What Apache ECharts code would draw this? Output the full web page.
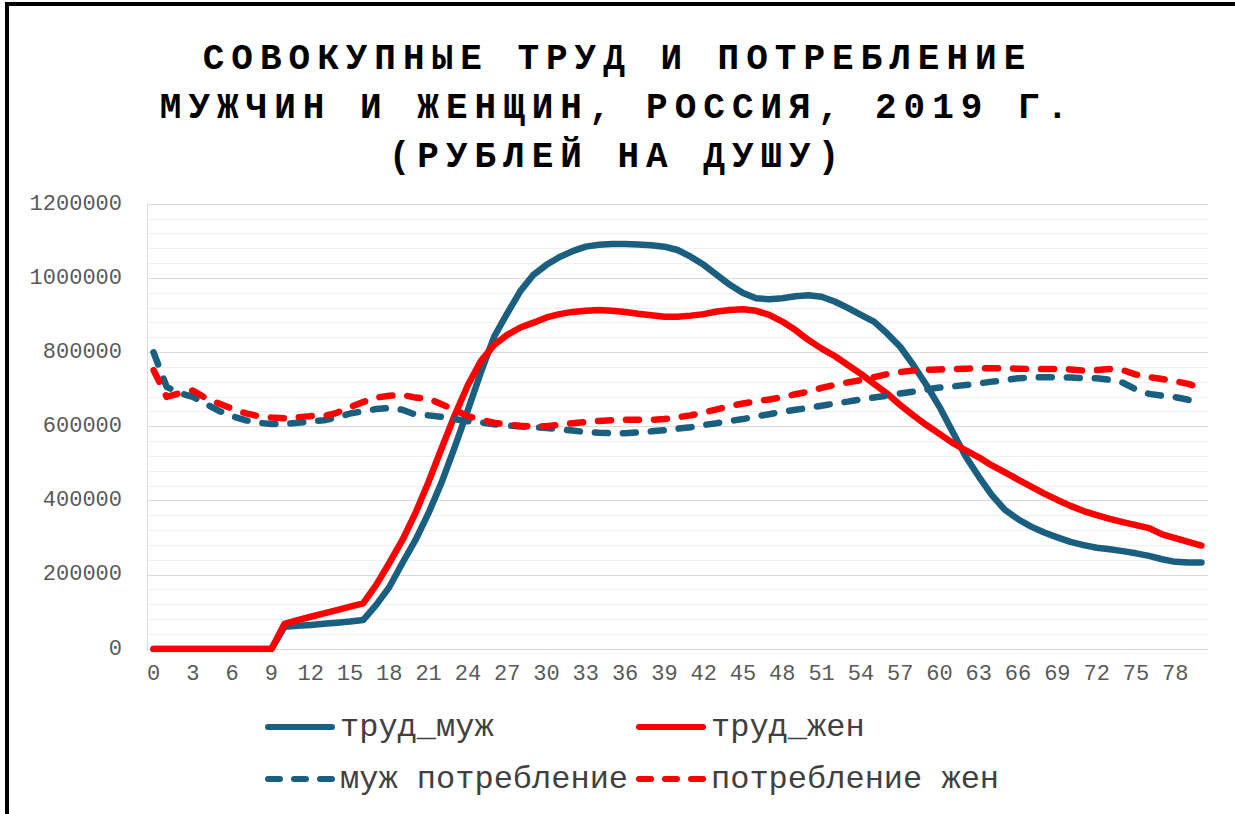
<!DOCTYPE html>
<html>
<head>
<meta charset="utf-8">
<script src="https://cdn.jsdelivr.net/npm/echarts@6/dist/echarts.min.js"></script>
<style>
html, body { margin: 0; padding: 0; background: #fff; }
#chart { width: 1235px; height: 814px; }
/* заголовок в Excel разрядкой */
#chart text[style*="bold"] { letter-spacing: 7px; }
</style>
</head>
<body>
<div id="chart"></div>
<script>
// возраст, лет
var ages = ['0','1','2','3','4','5','6','7','8','9','10','11','12','13','14','15','16','17','18','19',
    '20','21','22','23','24','25','26','27','28','29','30','31','32','33','34','35','36','37','38','39',
    '40','41','42','43','44','45','46','47','48','49','50','51','52','53','54','55','56','57','58','59',
    '60','61','62','63','64','65','66','67','68','69','70','71','72','73','74','75','76','77','78','79','80'];

// труд мужчин
var laborMale = [0, 0, 0, 0, 0, 0, 0, 0, 0, 0,
    60000, 63000, 65000, 68000, 71000, 74000, 78000, 119000, 167000, 232000,
    294000, 367000, 450000, 545000, 645000, 747000, 842000, 905000, 965000, 1009000,
    1036000, 1057000, 1073000, 1085000, 1090000, 1092000, 1092000, 1091000, 1089000, 1085000,
    1076000, 1058000, 1036000, 1009000, 982000, 960000, 946000, 943000, 946000, 951000,
    954000, 950000, 937000, 920000, 901000, 883000, 851000, 815000, 766000, 712000,
    653000, 586000, 519000, 465000, 415000, 375000, 350000, 330000, 314000, 301000,
    289000, 280000, 273000, 269000, 264000, 258000, 251000, 242000, 235000, 233000, 233000];

// труд женщин
var laborFemale = [0, 0, 0, 0, 0, 0, 0, 0, 0, 0,
    68000, 78000, 87000, 96000, 105000, 114000, 123000, 173000, 232000, 294000,
    367000, 451000, 542000, 631000, 712000, 777000, 820000, 847000, 867000, 880000,
    894000, 903000, 909000, 912000, 914000, 912000, 909000, 904000, 900000, 896000,
    896000, 899000, 903000, 910000, 914000, 916000, 912000, 901000, 883000, 860000,
    833000, 810000, 790000, 766000, 742000, 715000, 689000, 658000, 630000, 604000,
    580000, 556000, 536000, 517000, 495000, 476000, 457000, 438000, 419000, 402000,
    386000, 372000, 361000, 351000, 342000, 334000, 326000, 309000, 299000, 289000, 279000];

// потребление мужчин
var consMale = [800000, 707000, 690000, 680000, 661000, 642000, 628000, 617000, 610000, 607000,
    607000, 610000, 614000, 617000, 624000, 635000, 641000, 647000, 650000, 645000,
    632000, 630000, 626000, 620000, 614000, 611000, 606000, 603000, 600000, 598000,
    596000, 593000, 589000, 585000, 583000, 582000, 582000, 584000, 587000, 590000,
    594000, 598000, 604000, 609000, 615000, 620000, 627000, 633000, 640000, 645000,
    650000, 656000, 662000, 667000, 673000, 678000, 683000, 689000, 694000, 700000,
    705000, 708000, 712000, 716000, 721000, 725000, 730000, 732000, 733000, 733000,
    732000, 730000, 730000, 726000, 718000, 700000, 688000, 683000, 679000, 672000, 663000];

// потребление женщин
var consFemale = [752000, 680000, 690000, 697000, 676000, 662000, 648000, 636000, 628000, 624000,
    622000, 625000, 628000, 628000, 637000, 652000, 666000, 678000, 683000, 685000,
    678000, 675000, 660000, 644000, 628000, 618000, 610000, 605000, 602000, 600000,
    601000, 605000, 609000, 612000, 615000, 617000, 618000, 618000, 618000, 620000,
    625000, 630000, 638000, 646000, 655000, 662000, 668000, 673000, 679000, 687000,
    694000, 704000, 712000, 719000, 725000, 733000, 741000, 747000, 751000, 753000,
    754000, 755000, 756000, 757000, 757000, 757000, 756000, 755000, 755000, 755000,
    754000, 751000, 752000, 755000, 752000, 740000, 733000, 728000, 722000, 715000, 703000];

var BLUE = '#1a5f80';
var RED = '#ff0000';
var FONT = "'Liberation Mono', 'DejaVu Sans Mono', monospace";
var GREY_TXT = '#595959';

// значки легенды: сплошная линия и пунктир со скруглёнными концами
var ICON_SOLID = 'path://M3,0h64a3,3 0 0 1 0,6h-64a3,3 0 0 1 0,-6z';
var ICON_DASH = 'path://M3,0h12a3,3 0 0 1 0,6h-12a3,3 0 0 1 0,-6z' +
    'M29,0h12a3,3 0 0 1 0,6h-12a3,3 0 0 1 0,-6z' +
    'M55,0h12a3,3 0 0 1 0,6h-12a3,3 0 0 1 0,-6z';

var chart = echarts.init(document.getElementById('chart'), null, { renderer: 'svg' });

function legendItem(name, left, top, icon) {
    return {
        data: [name],
        left: left,
        top: top,
        icon: icon,
        itemWidth: 70,
        itemHeight: 6,
        padding: 0,
        textStyle: { fontFamily: FONT, fontSize: 32, color: '#404040' }
    };
}

function lineSeries(name, data, color, dashed) {
    return {
        name: name,
        type: 'line',
        data: data,
        symbol: 'none',
        smooth: false,
        itemStyle: { color: color },
        lineStyle: {
            color: color,
            width: 6.5,
            type: dashed ? [13, 15] : 'solid',
            cap: 'round',
            join: 'round'
        }
    };
}

var option = {
    backgroundColor: '#fff',
    animation: false,
    title: {
        text: 'СОВОКУПНЫЕ ТРУД И ПОТРЕБЛЕНИЕ\nМУЖЧИН И ЖЕНЩИН, РОССИЯ, 2019 Г.\n(РУБЛЕЙ НА ДУШУ)',
        left: 'center',
        top: 30,
        textStyle: {
            fontFamily: FONT,
            fontWeight: 'bold',
            fontSize: 36,
            lineHeight: 49,
            color: '#000'
        }
    },
    graphic: [{
        type: 'rect',
        silent: true,
        shape: { x: 7, y: 4, width: 1400, height: 1000 },
        style: { fill: 'none', stroke: '#000', lineWidth: 4 }
    }],
    legend: [
        legendItem('труд_муж', 265, 711, ICON_SOLID),
        legendItem('труд_жен', 636, 711, ICON_SOLID),
        legendItem('муж потребление', 265, 763, ICON_DASH),
        legendItem('потребление жен', 636, 763, ICON_DASH)
    ],
    grid: { left: 147, right: 27, top: 204, bottom: 165 },
    xAxis: {
        type: 'category',
        data: ages,
        boundaryGap: true,
        axisTick: { show: false },
        axisLine: { lineStyle: { color: '#d9d9d9', width: 1 } },
        axisLabel: { interval: 2, margin: 14, fontFamily: FONT, fontSize: 22, color: GREY_TXT }
    },
    yAxis: {
        type: 'value',
        min: 0,
        max: 1200000,
        interval: 200000,
        axisLine: { show: true, lineStyle: { color: '#d9d9d9', width: 1 } },
        axisTick: { show: false },
        axisLabel: {
            margin: 25, fontFamily: FONT, fontSize: 22, color: GREY_TXT,
            formatter: function (v) { return String(v); }
        },
        splitLine: { lineStyle: { color: '#d9d9d9', width: 1 } },
        minorTick: { show: false, splitNumber: 5 },
        minorSplitLine: { show: true, lineStyle: { color: '#f0f0f0', width: 1 } }
    },
    series: [
        lineSeries('труд_муж', laborMale, BLUE, false),
        lineSeries('труд_жен', laborFemale, RED, false),
        lineSeries('муж потребление', consMale, BLUE, true),
        lineSeries('потребление жен', consFemale, RED, true)
    ]
};

chart.setOption(option);
</script>
</body>
</html>
